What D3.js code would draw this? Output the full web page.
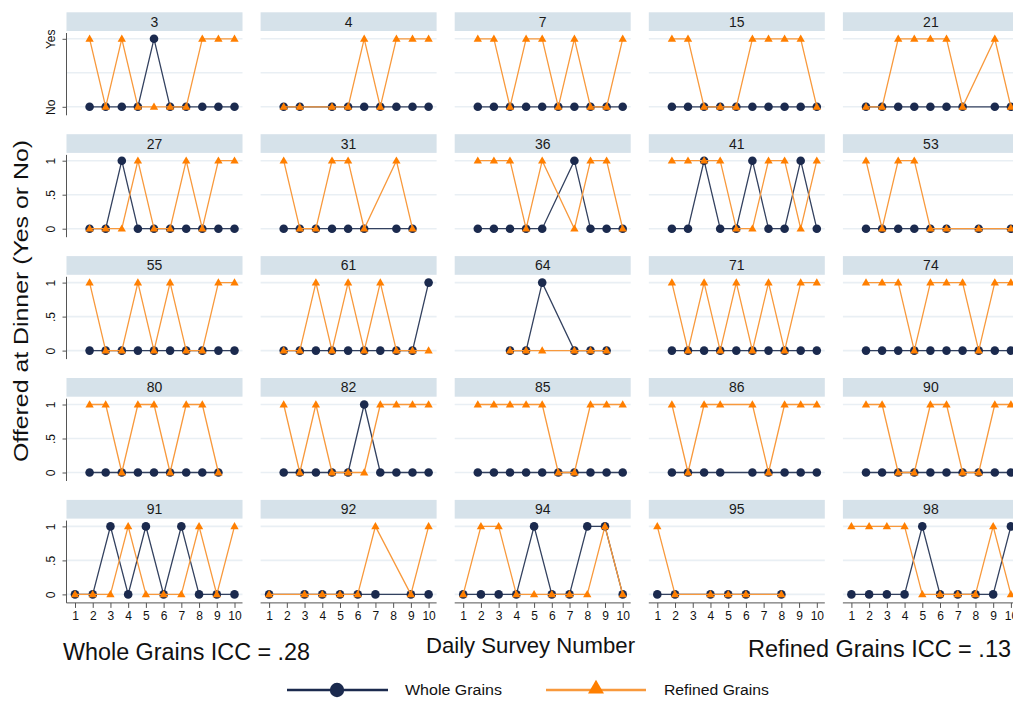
<!DOCTYPE html>
<html>
<head>
<meta charset="utf-8">
<script src="https://cdn.jsdelivr.net/npm/d3@7"></script>
<style>
  body { margin: 0; background: #ffffff; }
  svg { display: block; }
</style>
</head>
<body>
<svg id="chart" width="1013" height="701"></svg>
<script>
// Household IDs shown in the small multiples (row by row)
const panelIds = [3, 4, 7, 15, 21, 27, 31, 36, 41, 53, 55, 61, 64, 71, 74, 80, 82, 85, 86, 90, 91, 92, 94, 95, 98];

// Daily survey numbers 1..10
const surveyNumbers = [1, 2, 3, 4, 5, 6, 7, 8, 9, 10];

// Whole grains offered at dinner (1 = yes, 0 = no, null = no survey that day)
const wholeGrains = [
  [0, 0, 0, 0, 1, 0, 0, 0, 0, 0],
  [0, 0, null, 0, 0, 0, 0, 0, 0, 0],
  [0, 0, 0, 0, 0, 0, 0, 0, 0, 0],
  [0, 0, 0, 0, 0, 0, 0, 0, 0, 0],
  [0, 0, 0, 0, 0, 0, 0, null, 0, 0],
  [0, 0, 1, 0, 0, 0, 0, 0, 0, 0],
  [0, 0, 0, 0, 0, 0, null, 0, 0, null],
  [0, 0, 0, 0, 0, null, 1, 0, 0, 0],
  [0, 0, 1, 0, 0, 1, 0, 0, 1, 0],
  [0, 0, 0, 0, 0, 0, null, 0, null, 0],
  [0, 0, 0, 0, 0, 0, 0, 0, 0, 0],
  [0, 0, 0, 0, 0, 0, 0, 0, 0, 1],
  [null, null, 0, 0, 1, null, 0, 0, 0, null],
  [0, 0, 0, 0, 0, 0, 0, 0, 0, 0],
  [0, 0, 0, 0, 0, 0, 0, 0, 0, 0],
  [0, 0, 0, 0, 0, 0, 0, 0, 0, null],
  [0, 0, 0, 0, 0, 1, 0, 0, 0, 0],
  [0, 0, 0, 0, 0, 0, 0, 0, 0, 0],
  [0, 0, 0, 0, null, 0, 0, 0, 0, 0],
  [0, 0, 0, 0, 0, 0, 0, 0, 0, 0],
  [0, 0, 1, 0, 1, 0, 1, 0, 0, 0],
  [0, null, 0, 0, 0, 0, 0, null, 0, 0],
  [0, 0, 0, 0, 1, 0, 0, 1, 1, 0],
  [0, 0, null, 0, 0, 0, null, 0, null, null],
  [0, 0, 0, 0, 1, 0, 0, 0, 0, 1]
];

// Refined grains offered at dinner
const refinedGrains = [
  [1, 0, 1, 0, 0, 0, 0, 1, 1, 1],
  [0, 0, null, 0, 0, 1, 0, 1, 1, 1],
  [1, 1, 0, 1, 1, 0, 1, 0, 0, 1],
  [1, 1, 0, 0, 0, 1, 1, 1, 1, 0],
  [0, 0, 1, 1, 1, 1, 0, null, 1, 0],
  [0, 0, 0, 1, 0, 0, 1, 0, 1, 1],
  [1, 0, 0, 1, 1, 0, null, 1, 0, null],
  [1, 1, 1, 0, 1, null, 0, 1, 1, 0],
  [1, 1, 1, 1, 0, 0, 1, 1, 0, 1],
  [1, 0, 1, 1, 0, 0, null, 0, null, 0],
  [1, 0, 0, 1, 0, 1, 0, 0, 1, 1],
  [0, 0, 1, 0, 1, 0, 1, 0, 0, 0],
  [null, null, 0, 0, 0, null, 0, 0, 0, null],
  [1, 0, 1, 0, 1, 0, 1, 0, 1, 1],
  [1, 1, 1, 0, 1, 1, 1, 0, 1, 1],
  [1, 1, 0, 1, 1, 0, 1, 1, 0, null],
  [1, 0, 1, 0, 0, 0, 1, 1, 1, 1],
  [1, 1, 1, 1, 1, 0, 0, 1, 1, 1],
  [1, 0, 1, 1, null, 1, 0, 1, 1, 1],
  [1, 1, 0, 0, 1, 1, 0, 0, 1, 1],
  [0, 0, 0, 1, 0, 0, 0, 1, 0, 1],
  [0, null, 0, 0, 0, 0, 1, null, 0, 1],
  [0, 1, 1, 0, 0, 0, 0, 0, 1, 0],
  [1, 0, null, 0, 0, 0, null, 0, null, null],
  [1, 1, 1, 1, 0, 0, 0, 0, 1, 0]
];

// Y tick labels: first row uses Yes/No, the rest numeric
const yesNoTickValues = [0, 1];
const yesNoTickLabels = ["No", "Yes"];
const numericTickValues = [0, 0.5, 1];
const numericTickLabels = ["0", ".5", "1"];

const seriesNames = ["Whole Grains", "Refined Grains"];
const iccLabels = ["Whole Grains ICC = .28", "Refined Grains ICC = .13"];
const xTitle = "Daily Survey Number";
const yTitle = "Offered at Dinner (Yes or No)";

// ---- styling ----
const NAVY = "#1b2a4e";
const NAVY_LINE = "#33415f";
const ORANGE = "#ff7f00";
const ORANGE_LINE = "#f8993c";
const STRIP = "#d6e2ea";
const GRID = "#e9eff4";
const NARROW = "'Liberation Sans Narrow','Arial Narrow','Liberation Sans',Arial,sans-serif";
const SANS = "'Liberation Sans',Arial,sans-serif";

const svg = d3.select("#chart");
const nCols = 5;
const panelW = 176;
const stripH = 18.7;
const colLeft = c => 66.5 + c * 194.1;
const rowTop = r => 12.3 + r * 121.9;
const nRows = Math.ceil(panelIds.length / nCols);

const triangle = d3.symbol().type(d3.symbolTriangle).size(30);
const bigTriangle = d3.symbol().type(d3.symbolTriangle).size(110);

panelIds.forEach((id, i) => {
  const r = Math.floor(i / nCols), c = i % nCols;
  const left = colLeft(c), top = rowTop(r);
  const lastRow = r === nRows - 1;

  const x = lastRow
    ? d3.scaleLinear().domain([1, 10]).range([left + 8.5, left + 168])
    : d3.scaleLinear().domain([0, 10]).range([left + 7, left + 168]);
  const y = d3.scaleLinear().domain([0, 1]).range([top + 94.5, top + 26.5]);

  const g = svg.append("g").attr("class", "panel");

  // title strip
  g.append("rect")
    .attr("x", left).attr("y", top)
    .attr("width", panelW).attr("height", stripH)
    .attr("fill", STRIP);
  g.append("text")
    .attr("x", left + panelW / 2).attr("y", top + stripH / 2 + 5)
    .attr("text-anchor", "middle")
    .attr("font-family", SANS).attr("font-size", 14)
    .attr("fill", "#1a1a1a")
    .text(id);

  // horizontal gridlines
  g.selectAll("line.grid").data(numericTickValues).enter().append("line")
    .attr("class", "grid")
    .attr("x1", left).attr("x2", left + panelW)
    .attr("y1", d => y(d)).attr("y2", d => y(d))
    .attr("stroke", GRID).attr("stroke-width", 1.6);

  // y axis on the first column
  if (c === 0) {
    const vals = r === 0 ? yesNoTickValues : numericTickValues;
    const labs = r === 0 ? yesNoTickLabels : numericTickLabels;
    const yAxis = d3.axisLeft(y).tickValues(vals)
      .tickFormat((d, k) => labs[k]).tickSize(4).tickSizeOuter(0);
    const ax = g.append("g")
      .attr("transform", `translate(${left},0)`)
      .call(yAxis);
    ax.select(".domain").remove();
    ax.selectAll(".tick line").attr("stroke", "#555");
    ax.selectAll(".tick text")
      .attr("font-family", NARROW).attr("font-size", 12).attr("fill", "#111")
      .attr("x", null).attr("dy", null)
      .attr("text-anchor", "middle")
      .attr("transform", "translate(-12,0) rotate(-90)");
    g.append("line")
      .attr("x1", left).attr("x2", left)
      .attr("y1", top + stripH + 2).attr("y2", top + 103)
      .attr("stroke", "#555").attr("stroke-width", 1);
  }

  // x axis on the bottom row
  if (lastRow) {
    const xAxis = d3.axisBottom(x).tickValues(surveyNumbers)
      .tickFormat(d3.format("d")).tickSize(5).tickSizeOuter(0);
    const ax = g.append("g")
      .attr("transform", `translate(0,${top + 103})`)
      .call(xAxis);
    ax.select(".domain").attr("d", `M${left},0H${left + panelW}`).attr("stroke", "#555");
    ax.selectAll(".tick line").attr("stroke", "#555");
    ax.selectAll(".tick text")
      .attr("font-family", NARROW).attr("font-size", 12).attr("fill", "#111")
      .attr("y", 9);
  }

  // series: whole grains first, refined grains on top
  const series = [
    { vals: wholeGrains[i], line: NAVY_LINE, mark: NAVY, kind: "circle" },
    { vals: refinedGrains[i], line: ORANGE_LINE, mark: ORANGE, kind: "triangle" }
  ];
  const line = d3.line().x(d => x(d.s)).y(d => y(d.v));
  series.forEach(s => {
    const pts = surveyNumbers.map((sn, k) => ({ s: sn, v: s.vals[k] }))
      .filter(d => d.v !== null);
    g.append("path").datum(pts)
      .attr("d", line)
      .attr("fill", "none")
      .attr("stroke", s.line)
      .attr("stroke-width", 1.3);
    if (s.kind === "circle") {
      g.selectAll(null).data(pts).enter().append("circle")
        .attr("cx", d => x(d.s)).attr("cy", d => y(d.v))
        .attr("r", 4.3).attr("fill", s.mark);
    } else {
      g.selectAll(null).data(pts).enter().append("path")
        .attr("d", triangle)
        .attr("transform", d => `translate(${x(d.s)},${y(d.v) + 0.5})`)
        .attr("fill", s.mark);
    }
  });
});

// y axis title
svg.append("text")
  .attr("transform", "translate(28,301) rotate(-90)")
  .attr("text-anchor", "middle")
  .attr("font-family", SANS).attr("font-size", 21).attr("fill", "#111")
  .attr("textLength", 322).attr("lengthAdjust", "spacingAndGlyphs")
  .text(yTitle);

// x axis title and ICC notes
svg.append("text")
  .attr("x", 426).attr("y", 653)
  .attr("font-family", NARROW).attr("font-size", 22).attr("fill", "#111")
  .attr("textLength", 209).attr("lengthAdjust", "spacingAndGlyphs")
  .text(xTitle);
svg.append("text")
  .attr("x", 63).attr("y", 660)
  .attr("font-family", NARROW).attr("font-size", 23).attr("fill", "#111")
  .attr("textLength", 247).attr("lengthAdjust", "spacingAndGlyphs")
  .text(iccLabels[0]);
svg.append("text")
  .attr("x", 748).attr("y", 657)
  .attr("font-family", NARROW).attr("font-size", 23).attr("fill", "#111")
  .attr("textLength", 263).attr("lengthAdjust", "spacingAndGlyphs")
  .text(iccLabels[1]);

// legend
const legY = 690;
const legend = svg.append("g");
legend.append("line")
  .attr("x1", 287).attr("x2", 388).attr("y1", legY).attr("y2", legY)
  .attr("stroke", NAVY).attr("stroke-width", 2.6);
legend.append("circle")
  .attr("cx", 337).attr("cy", legY).attr("r", 7.2).attr("fill", NAVY);
legend.append("text")
  .attr("x", 405).attr("y", legY + 5)
  .attr("font-family", NARROW).attr("font-size", 14).attr("fill", "#111")
  .attr("textLength", 97).attr("lengthAdjust", "spacingAndGlyphs")
  .text(seriesNames[0]);
legend.append("line")
  .attr("x1", 546).attr("x2", 646).attr("y1", legY).attr("y2", legY)
  .attr("stroke", ORANGE_LINE).attr("stroke-width", 2.6);
legend.append("path")
  .attr("d", bigTriangle)
  .attr("transform", `translate(596,${legY - 1})`)
  .attr("fill", ORANGE);
legend.append("text")
  .attr("x", 664).attr("y", legY + 5)
  .attr("font-family", NARROW).attr("font-size", 14).attr("fill", "#111")
  .attr("textLength", 105).attr("lengthAdjust", "spacingAndGlyphs")
  .text(seriesNames[1]);
</script>
</body>
</html>
